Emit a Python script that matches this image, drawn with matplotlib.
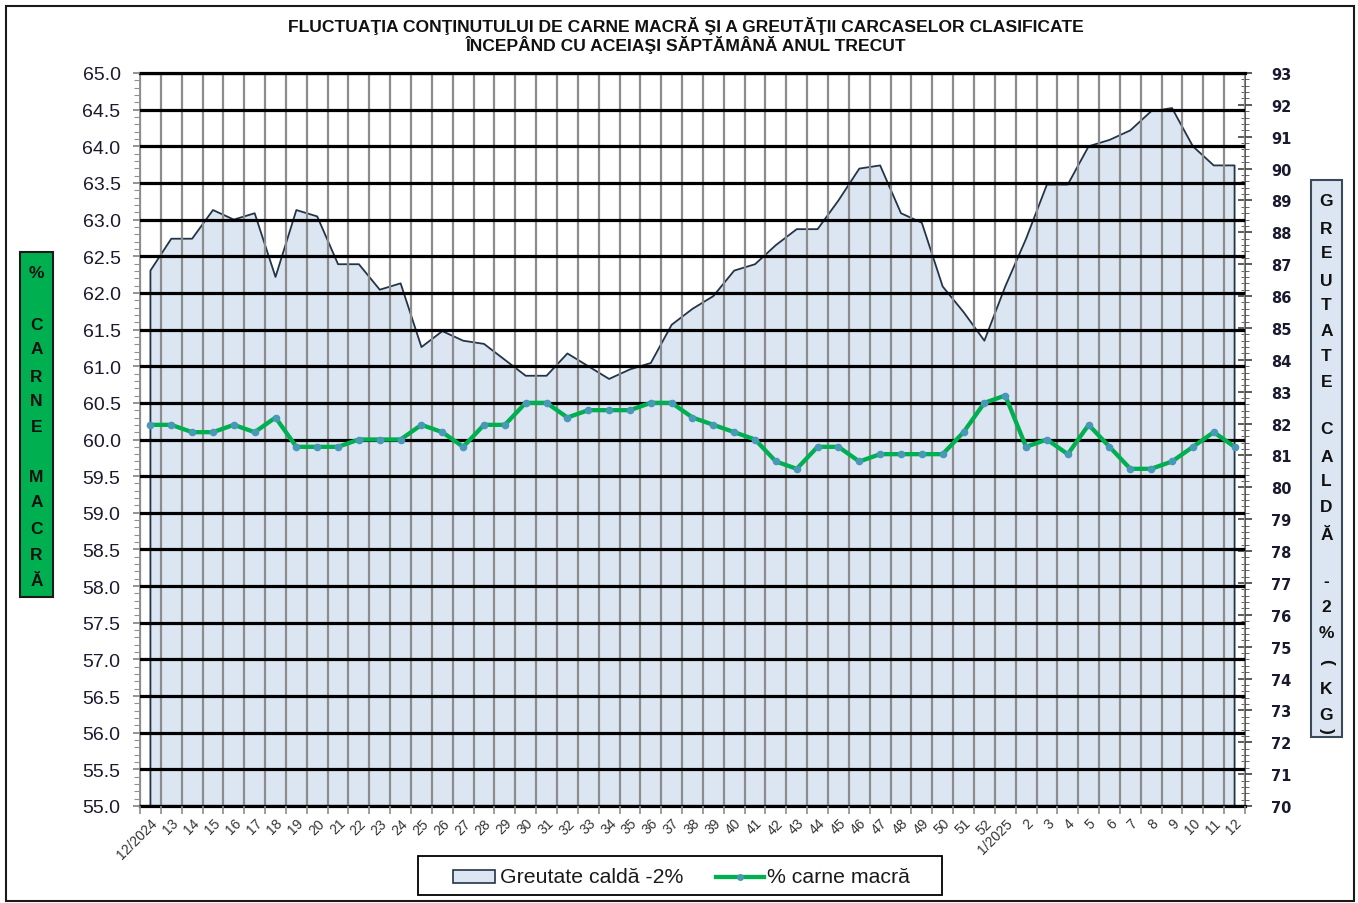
import matplotlib
matplotlib.use('Agg')
import matplotlib.pyplot as plt
from matplotlib.patches import Rectangle
from matplotlib.lines import Line2D
from matplotlib.ticker import MultipleLocator
import numpy as np

# ---------------- data ----------------
weeks = ['12/2024'] + [str(i) for i in range(13, 53)] + ['1/2025'] + [str(i) for i in range(2, 13)]

lean_meat = [60.2, 60.2, 60.1, 60.1, 60.2, 60.1, 60.3, 59.9, 59.9, 59.9,
             60.0, 60.0, 60.0, 60.2, 60.1, 59.9, 60.2, 60.2, 60.5, 60.5,
             60.3, 60.4, 60.4, 60.4, 60.5, 60.5, 60.3, 60.2, 60.1, 60.0,
             59.7, 59.6, 59.9, 59.9, 59.7, 59.8, 59.8, 59.8, 59.8, 60.1,
             60.5, 60.6, 59.9, 60.0, 59.8, 60.2, 59.9, 59.6, 59.6, 59.7,
             59.9, 60.1, 59.9]

warm_weight = [86.8, 87.8, 87.8, 88.7, 88.4, 88.6, 86.6, 88.7, 88.5, 87.0,
               87.0, 86.2, 86.4, 84.4, 84.9, 84.6, 84.5, 84.0, 83.5, 83.5,
               84.2, 83.8, 83.4, 83.7, 83.9, 85.1, 85.6, 86.0, 86.8, 87.0,
               87.6, 88.1, 88.1, 89.0, 90.0, 90.1, 88.6, 88.3, 86.3, 85.5,
               84.6, 86.3, 87.8, 89.5, 89.5, 90.7, 90.9, 91.2, 91.8, 91.9,
               90.7, 90.1, 90.1]

title_lines = ['FLUCTUAŢIA CONŢINUTULUI DE CARNE MACRĂ ŞI A GREUTĂŢII CARCASELOR CLASIFICATE',
               'ÎNCEPÂND CU ACEIAŞI SĂPTĂMÂNĂ ANUL TRECUT']
legend_labels = ['Greutate caldă -2%', '% carne macră']

# ---------------- layout ----------------
W, H = 1358, 904
fig = plt.figure(figsize=(W / 100, H / 100), dpi=100)
L, R, T, B = 140, 1245, 74, 807
ax = fig.add_axes([L / W, 1 - B / H, (R - L) / W, (B - T) / H])
ax2 = ax.twinx()
ax.set_zorder(ax2.get_zorder() + 1)
ax.patch.set_visible(False)

AREA_FC = '#DCE6F2'
AREA_EC = '#243447'
GREEN = '#00B050'
MARK = '#4A98B8'
TXT = '#1a1a2e'
FAM = ['Liberation Sans', 'DejaVu Sans']

x = np.arange(len(weeks))

# area on right axis
ax2.fill_between(x, 70, warm_weight, color=AREA_FC, lw=0, zorder=1)
ax2.plot(np.r_[x[0], x, x[-1]], np.r_[70, warm_weight, 70], color=AREA_EC, lw=1.3, zorder=2)

# green line on left axis
ax.plot(x, lean_meat, color=GREEN, lw=3.1, marker='o', ms=4.5, mfc=MARK, mec=MARK,
        zorder=5, solid_joinstyle='round')

# limits
ax.set_xlim(-0.5, len(weeks) - 0.5)
ax.set_ylim(55, 65)
ax2.set_ylim(70, 93)

# left axis ticks
yt = np.arange(55, 65.01, 0.5)
ax.set_yticks(yt)
ax.set_yticklabels([f'{v:.1f}' for v in yt], fontsize=14, color=TXT, family=FAM)
ax.yaxis.set_minor_locator(MultipleLocator(0.1))
ax.tick_params(axis='y', which='major', direction='out', length=5, width=1.2,
               color='#808080', pad=9)
ax.tick_params(axis='y', which='minor', direction='out', length=4, width=0.8,
               color='#909090')
ax.grid(axis='y', which='major', color='black', lw=2.3, zorder=3)

# x axis
ax.set_xticks(x)
ax.set_xticklabels(weeks, rotation=45, ha='right', rotation_mode='anchor',
                   fontsize=10, color='#333333', family=FAM)
ax.tick_params(axis='x', which='major', length=0, pad=7)
ax.set_xticks(np.arange(-0.5, len(weeks), 1), minor=True)
ax.tick_params(axis='x', which='minor', length=6, width=1.2, color='#8c8c8c', direction='out')
ax.grid(axis='x', which='minor', color='#8c8c8c', lw=1.6, zorder=3)
ax.set_axisbelow(False)

# spines
for s in ['top', 'bottom']:
    ax.spines[s].set_color('black')
    ax.spines[s].set_linewidth(2.3)
ax.spines['left'].set_color('#808080')
ax.spines['left'].set_linewidth(1.2)
ax.spines['right'].set_visible(False)
for s in ['top', 'bottom', 'left']:
    ax2.spines[s].set_visible(False)
ax2.spines['right'].set_color('#404040')
ax2.spines['right'].set_linewidth(1.2)

# right axis ticks
ax2.set_yticks(np.arange(70, 93.01, 1))
ax2.set_yticklabels([str(v) for v in range(70, 94)], fontsize=10.5, fontweight='bold',
                    color=TXT)
ax2.yaxis.set_minor_locator(MultipleLocator(0.2))
ax2.tick_params(axis='y', which='major', direction='inout', length=10, width=1.2,
                color='#404040', pad=14)
ax2.tick_params(axis='y', which='minor', direction='inout', length=6, width=0.7,
                color='#606060')

# title
for txt, yy in zip(title_lines, [26, 45]):
    fig.text(686 / W, 1 - yy / H, txt, ha='center', va='center', fontsize=12.6,
             fontweight='bold', family=FAM, color='#111111')


def fx(px):
    return px / W


def fy(py):
    return 1 - py / H


# side labels
def box(x0, y0, x1, y1, fc, ec, lw=1.5, fill=True):
    fig.patches.append(Rectangle((fx(x0), fy(y1)), (x1 - x0) / W, (y1 - y0) / H,
                                 transform=fig.transFigure, facecolor=fc, edgecolor=ec,
                                 lw=lw, zorder=0, fill=fill))


box(20, 253, 53, 598, GREEN, '#1a1a1a')
left_letters = [('%', 273), ('C', 325), ('A', 350), ('R', 377), ('N', 402), ('E', 428),
                ('M', 478), ('A', 503), ('C', 530), ('R', 555), ('Ă', 582)]
for ch, yy in left_letters:
    fig.text(fx(36.5), fy(yy), ch, ha='center', va='center', fontsize=12.5,
             fontweight='bold', color='#111111', family=FAM)

box(1311, 181, 1342, 738, AREA_FC, '#3b4a5a')
right_letters = [('G', 201), ('R', 229), ('E', 254), ('U', 281), ('T', 305), ('A', 332),
                 ('T', 357), ('E', 383), ('C', 430), ('A', 457), ('L', 482), ('D', 508),
                 ('Ă', 535), ('-', 582), ('2', 607), ('%', 633), ('(', 662), ('K', 690),
                 ('G', 716), (')', 731)]
for ch, yy in right_letters:
    rot = -90 if ch in '()' else 0
    fig.text(fx(1326.5), fy(yy), ch, ha='center', va='center', fontsize=12.5,
             fontweight='bold', color='#111111', rotation=rot, family=FAM)

# legend (drawn in figure pixel positions)
box(418, 857, 942, 896, 'white', 'black', lw=1.3)
box(453, 871, 495, 884, AREA_FC, AREA_EC, lw=1.2)
fig.text(fx(500), fy(877.5), legend_labels[0], ha='left', va='center', fontsize=15.3,
         family=FAM, color='#1a1a1a')
fig.lines.append(Line2D([fx(716), fx(764)], [fy(878), fy(878)], transform=fig.transFigure,
                        color=GREEN, lw=3.1))
fig.lines.append(Line2D([fx(740)], [fy(878)], transform=fig.transFigure, color=GREEN,
                        marker='o', ms=4, mfc=MARK, mec=MARK, lw=0))
fig.text(fx(767), fy(877.5), legend_labels[1], ha='left', va='center', fontsize=15.3,
         family=FAM, color='#1a1a1a')

# outer frame
box(6, 7, 1354, 902, 'none', '#1a1a1a', lw=1.5, fill=False)

fig.savefig('out.png', dpi=100)
